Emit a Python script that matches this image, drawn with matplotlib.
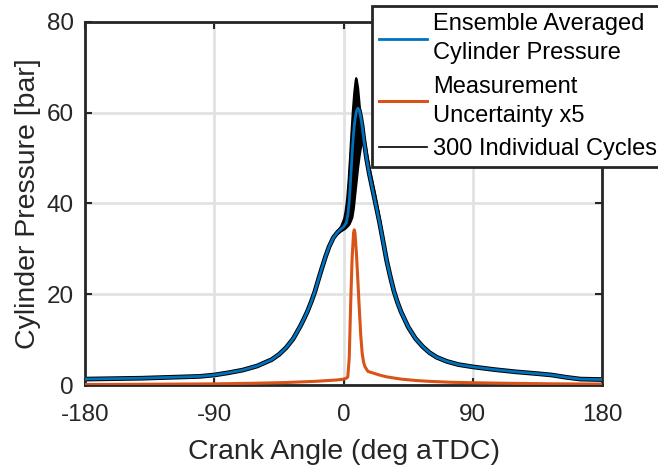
import matplotlib.pyplot as plt

# crank angle grid and ensemble averaged cylinder pressure [bar]
angle = [-180, -160, -140, -120, -100, -90, -80, -70, -60, -50, -45, -40, -35, -30,
         -27.5, -25, -22.5, -20, -17.5, -15, -12.5, -10, -7, -4, -2, 0, 2, 3, 4, 5,
         6, 7, 8, 9, 10, 11, 12, 13, 14, 16, 18, 20, 22, 25, 27.5, 30, 32.5, 35,
         37.5, 40, 45, 50, 55, 60, 65, 72, 80, 90, 105, 120, 135, 145, 155, 165, 180]
pressure = [1.3, 1.4, 1.5, 1.7, 1.9, 2.2, 2.7, 3.3, 4.2, 5.6, 6.7, 8.2, 10.2, 13.0,
            14.6, 16.3, 18.3, 20.5, 23.2, 25.8, 28.3, 30.5, 32.5, 33.7, 34.3, 34.8,
            35.8, 37.5, 40.5, 45.5, 51.0, 55.5, 58.5, 60.3, 61.0, 60.5, 59.0, 57.0,
            54.5, 50.0, 46.5, 43.5, 40.5, 36.0, 31.8, 27.5, 24.0, 20.8, 18.3, 16.2,
            12.8, 10.3, 8.5, 7.1, 6.1, 5.2, 4.5, 4.0, 3.4, 2.9, 2.5, 2.2, 1.7, 1.3,
            1.2]

# spread of the 300 individual cycles around combustion (min / max envelope)
cyc_angle = [-4, -2, 0, 1, 2, 3, 4, 5, 6, 7, 8, 8.5, 9, 10, 11, 12, 13, 14, 16, 18,
             20, 22, 25, 28]
cyc_upper = [34.2, 35.2, 36.8, 38.5, 41.0, 45.0, 50.0, 55.5, 60.5, 64.5, 67.3, 67.8,
             67.5, 65.5, 62.0, 58.5, 56.0, 55.0, 51.5, 48.0, 45.0, 42.0, 37.0, 31.5]
cyc_lower = [33.4, 33.9, 34.3, 34.5, 34.8, 35.1, 35.5, 36.2, 37.0, 39.0, 42.0, 43.5,
             45.0, 48.0, 50.5, 52.5, 53.5, 53.0, 49.5, 45.8, 42.7, 39.6, 35.0, 29.5]

# measurement uncertainty (x5) [bar]
unc_angle = [-180, -150, -120, -90, -60, -40, -20, -10, -5, -2, 0, 2, 3, 4, 5, 6, 7,
             7.5, 8, 9, 10, 10.8, 12, 13, 14, 15, 17, 20, 25, 30, 40, 50, 60, 75, 90,
             120, 150, 180]
uncertainty = [0.1, 0.15, 0.2, 0.25, 0.4, 0.55, 0.8, 1.0, 1.1, 1.2, 1.3, 1.5, 1.8,
               6.0, 18.0, 28.0, 33.5, 34.2, 33.5, 29.0, 23.0, 18.0, 11.0, 7.0, 5.0,
               4.0, 3.0, 2.7, 2.2, 1.8, 1.3, 1.0, 0.8, 0.6, 0.5, 0.35, 0.25, 0.2]

blue = '#0072BD'
orange = '#D95319'
dark = '#262626'

plt.rcParams['font.family'] = ['Liberation Sans', 'DejaVu Sans']
plt.rcParams['axes.unicode_minus'] = False

fig = plt.figure(figsize=(6.58, 4.65), dpi=100)
ax = fig.add_axes([85 / 658, 80 / 465, 517 / 658, 363 / 465])

ax.plot(angle, pressure, color='black', lw=3.4, zorder=2)
ax.fill_between(cyc_angle, cyc_lower, cyc_upper, color='black', lw=1.2, zorder=2)
l1, = ax.plot(angle, pressure, color=blue, lw=2.0, zorder=3)
l2, = ax.plot(unc_angle, uncertainty, color=orange, lw=2.2, zorder=4)
l3, = ax.plot([], [], color='black', lw=1.2)

ax.set_xlim(-180, 180)
ax.set_ylim(0, 80)
ax.set_xticks([-180, -90, 0, 90, 180])
ax.set_yticks([0, 20, 40, 60, 80])
ax.grid(True, color='#e2e2e2', lw=2)
ax.set_axisbelow(True)
ax.tick_params(direction='in', top=True, right=True, length=5, width=1.5,
               colors=dark, labelsize=17.5)
ax.tick_params(axis='x', pad=14)
ax.tick_params(axis='y', pad=8)
for s in ax.spines.values():
    s.set_color(dark)
    s.set_linewidth(2)

ax.set_xlabel('Crank Angle (deg aTDC)', fontsize=20.5, color=dark, labelpad=9)
ax.set_ylabel('Cylinder Pressure [bar]', fontsize=20.5, color=dark, labelpad=4)

leg = ax.legend([l1, l2, l3],
                ['Ensemble Averaged\nCylinder Pressure', 'Measurement\nUncertainty x5',
                 '300 Individual Cycles'],
                loc='upper left', bbox_to_anchor=(372 / 658, 1 - 6 / 465),
                bbox_transform=fig.transFigure, fontsize=17, frameon=True,
                fancybox=False, edgecolor=dark, framealpha=1, handlelength=2.05,
                handletextpad=0.25, borderpad=0.3, labelspacing=0.48,
                borderaxespad=0)
leg.get_frame().set_linewidth(2)
for t in leg.get_texts():
    t.set_linespacing(1.42)
    t.set_color('black')

fig.savefig('out.png', dpi=100, facecolor='white')
